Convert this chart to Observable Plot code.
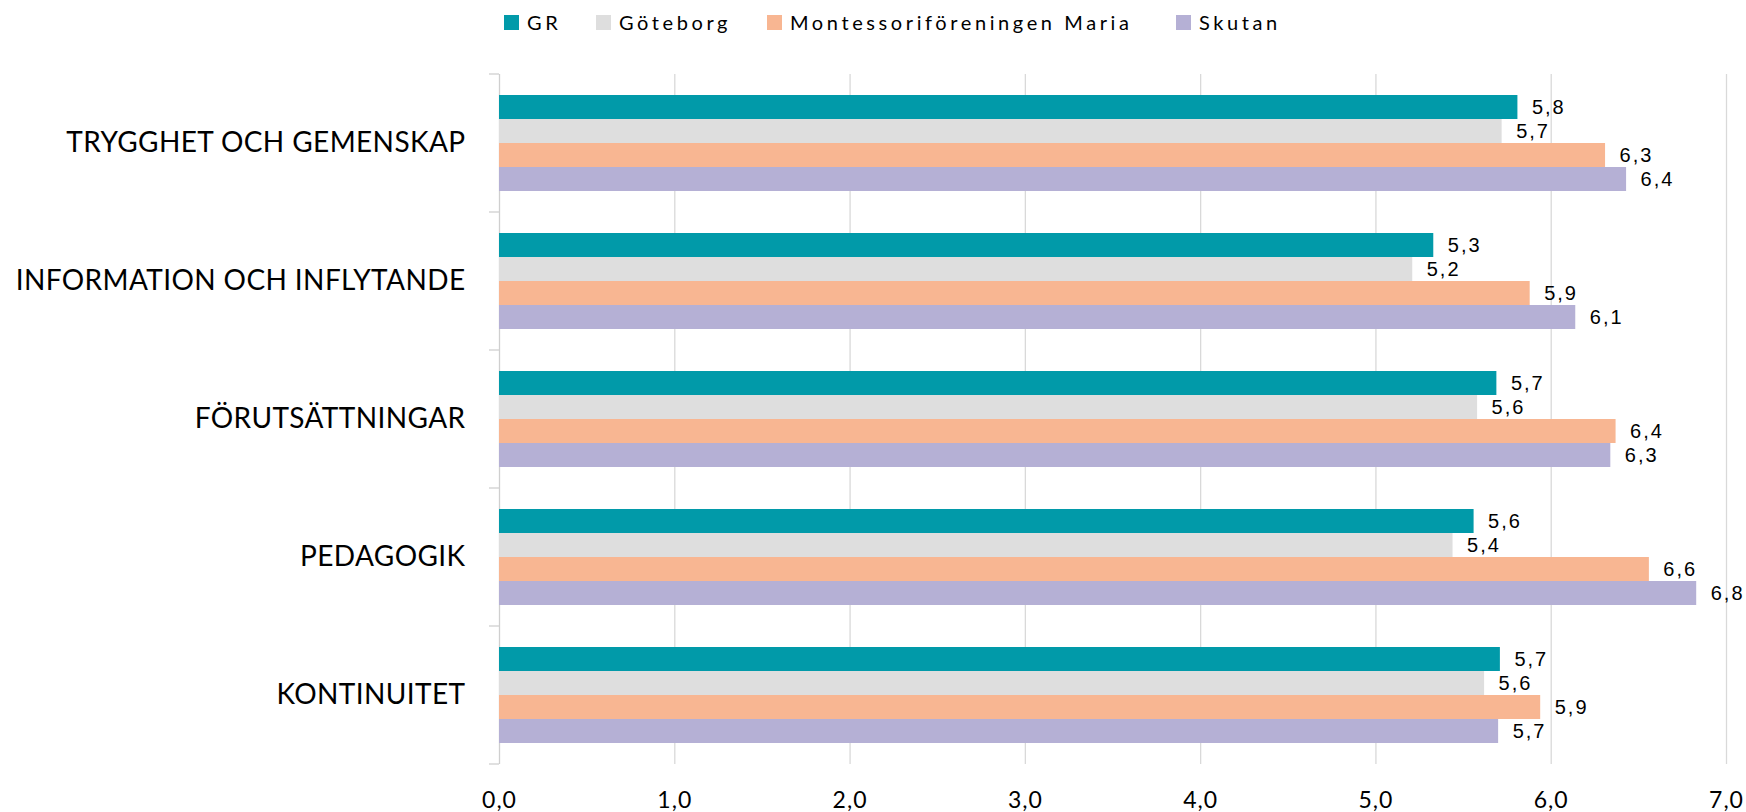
<!DOCTYPE html>
<html><head><meta charset="utf-8">
<script src="https://cdn.jsdelivr.net/npm/d3@7"></script>
<script src="https://cdn.jsdelivr.net/npm/@observablehq/plot@0.6"></script>
<style>
body{margin:0;background:#fff;}
#legend{height:44px;position:relative;font-family:Lato,sans-serif;font-size:20px;letter-spacing:3.6px;color:#000;}
.item{position:absolute;top:0;height:44px;display:flex;align-items:center;white-space:nowrap;}
.sw{width:15px;height:15px;margin-right:8px;}
#chart svg{display:block;}
#chart g[aria-label^="fy-axis"] text{font-size:28px;letter-spacing:0.4px;}
#chart g[aria-label^="x-axis"] text{font-size:23px;letter-spacing:1px;}
#chart g[aria-label="text"] text{letter-spacing:2px;}
</style></head><body>
<div id="legend"></div><div id="chart"></div>
<script>
const categories = ["TRYGGHET OCH GEMENSKAP","INFORMATION OCH INFLYTANDE","FÖRUTSÄTTNINGAR","PEDAGOGIK","KONTINUITET"];
const series = ["GR","Göteborg","Montessoriföreningen Maria","Skutan"];
const colors = ["#019aa9","#dedede","#f8b692","#b5b0d5"];
const GR = [5.81,5.33,5.69,5.56,5.71];
const Goteborg = [5.72,5.21,5.58,5.44,5.62];
const Maria = [6.31,5.88,6.37,6.56,5.94];
const Skutan = [6.43,6.14,6.34,6.83,5.70];
const xTicks = [0,1,2,3,4,5,6,7];

const seriesValues = [GR, Goteborg, Maria, Skutan];
const rows = categories.flatMap((c,i)=>series.map((s,j)=>({category:c, series:s, value:seriesValues[j][i]})));
const fmt = v => v.toFixed(1).replace(".", ",");

// legend
const legendLeft = [504, 596, 767, 1176];
const lg = document.getElementById("legend");
series.forEach((s,i)=>{
  const it = document.createElement("div");
  it.className = "item";
  it.style.left = legendLeft[i] + "px";
  const sw = document.createElement("span");
  sw.className = "sw"; sw.style.background = colors[i];
  const tx = document.createElement("span");
  tx.textContent = s;
  it.appendChild(sw); it.appendChild(tx);
  lg.appendChild(it);
});

const plot = Plot.plot({
  width:1746, height:768, marginLeft:499, marginRight:20, marginTop:30, marginBottom:48,
  style:{fontFamily:"Lato, sans-serif", fontSize:"23px", color:"#000", background:"#fff", overflow:"visible"},
  facet:{data:rows, y:"category"},
  fy:{domain:categories, padding:0, label:null, tickSize:0, tickPadding:34, axis:"left"},
  y:{domain:series, axis:null, paddingInner:0, paddingOuter:0.79, align:0.5},
  x:{domain:[0,7], ticks:xTicks, tickFormat:fmt, tickSize:0, tickPadding:27, label:null},
  color:{domain:series, range:colors},
  marks:[
    Plot.ruleX(xTicks.slice(1), {stroke:"#d9d9d9", strokeWidth:1.3}),
    Plot.ruleX([0], {stroke:"#cfcfcf", strokeWidth:1.3}),
    Plot.barX(rows, {x:"value", y:"series", fill:"series"}),
    Plot.text(rows, {x:"value", y:"series", text:d=>fmt(d.value), dx:14, textAnchor:"start", fontSize:20, fontFamily:"Liberation Sans, Arial, sans-serif", fill:"#000"})
  ]
});
document.getElementById("chart").appendChild(plot);

// category boundary ticks on the left axis
const fyS = plot.scale("fy");
const x0 = plot.scale("x").apply ? plot.scale("x").apply(0) : 499;
let bounds;
if (fyS && fyS.apply && fyS.bandwidth) {
  bounds = categories.map(c=>fyS.apply(c));
  bounds.push(fyS.apply(categories[categories.length-1]) + fyS.bandwidth);
} else {
  const r = fyS.range, st = (r[1]-r[0])/categories.length;
  bounds = d3.range(categories.length+1).map(i=>r[0]+i*st);
}
const svg = d3.select(plot.tagName.toLowerCase()==="svg" ? plot : plot.querySelector("svg"));
svg.append("g").selectAll("line").data(bounds).join("line")
  .attr("x1", x0-10).attr("x2", x0).attr("y1", d=>d).attr("y2", d=>d)
  .attr("stroke", "#cfcfcf").attr("stroke-width", 1.3);
</script>
</body></html>
